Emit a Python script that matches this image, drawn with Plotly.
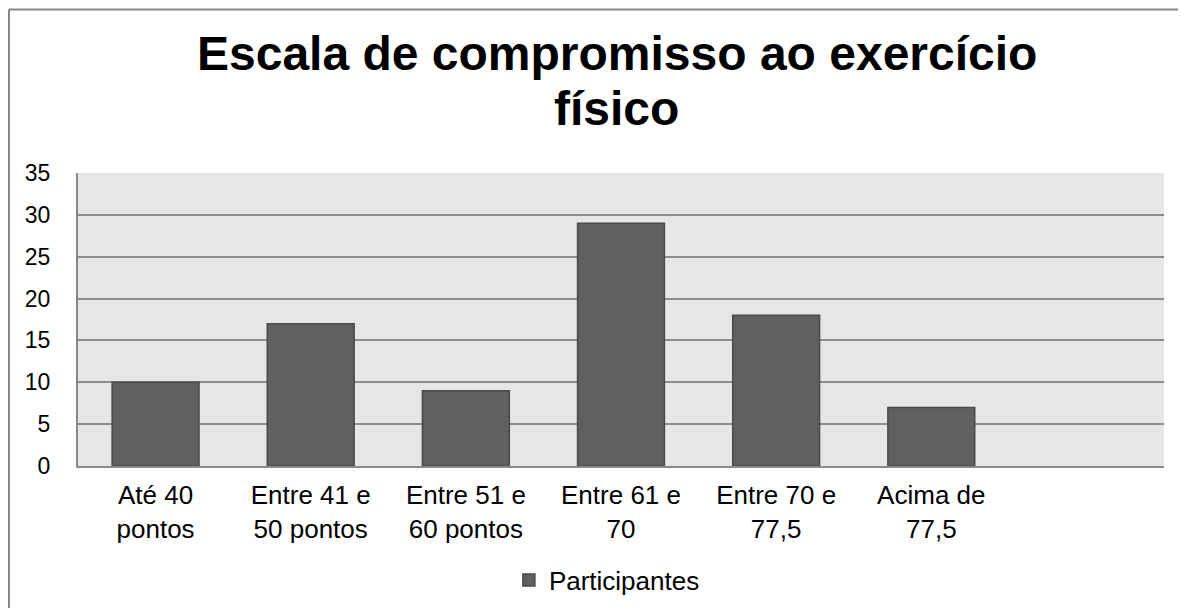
import plotly.graph_objects as go

categories = ["Até 40<br>pontos", "Entre 41 e<br>50 pontos", "Entre 51 e<br>60 pontos",
              "Entre 61 e<br>70", "Entre 70 e<br>77,5", "Acima de<br>77,5"]
participantes = [10, 17, 9, 29, 18, 7]
y_ticks = [0, 5, 10, 15, 20, 25, 30, 35]
title_lines = ["Escala de compromisso ao exercício", "físico"]

W, H = 1170, 600
ml, mr, mt, mb = 70, 14, 165, 142
pw, ph = W - ml - mr, H - mt - mb

def px_x(x):
    return (x - ml) / pw

def px_y(y):
    return (H - mb - y) / ph

fig = go.Figure()
fig.add_trace(go.Bar(
    x=categories, y=participantes, name="Participantes",
    marker=dict(color="#606060", line=dict(color="#4a4a4a", width=1.5)),
))

font = "Liberation Sans, Arial, sans-serif"
title_font = dict(family=font, size=48, color="black")
fig.update_layout(
    width=W, height=H,
    margin=dict(l=ml, r=mr, t=mt, b=mb, pad=0, autoexpand=False),
    paper_bgcolor="white", plot_bgcolor="#e6e6e6",
    bargap=0.44,
    showlegend=True,
    legend=dict(orientation="h", x=0.487, xanchor="center",
                yref="container", y=(H - 572) / H, yanchor="middle",
                font=dict(family=font, size=26, color="black"), itemwidth=30),
    xaxis=dict(type="category", range=[-0.5, 6.5], categoryorder="array", categoryarray=categories,
               showgrid=False, showline=True, linecolor="#8a8a8a", linewidth=2,
               ticks="", tickfont=dict(family=font, size=26, color="black"),
               ticklabelstandoff=5, automargin=False, fixedrange=True),
    yaxis=dict(range=[0, 35], tickvals=y_ticks, showgrid=True, gridcolor="#8c8c8c", gridwidth=2,
               zeroline=False, showline=True, linecolor="#8a8a8a", linewidth=2,
               ticks="", tickfont=dict(family=font, size=23, color="black"),
               ticklabelstandoff=21, automargin=False, fixedrange=True),
    annotations=[
        dict(text="<b>" + title_lines[0] + "</b>", xref="paper", yref="paper",
             x=0.496, y=px_y(46), xanchor="center", yanchor="middle", showarrow=False, font=title_font),
        dict(text="<b>" + title_lines[1] + "</b>", xref="paper", yref="paper",
             x=0.496, y=px_y(100), xanchor="center", yanchor="middle", showarrow=False, font=title_font),
    ],
    shapes=[
        dict(type="line", xref="paper", yref="paper", x0=px_x(1), x1=px_x(W + 20), y0=px_y(1.5), y1=px_y(1.5),
             line=dict(color="#868686", width=2)),
        dict(type="line", xref="paper", yref="paper", x0=px_x(1), x1=px_x(1), y0=px_y(1.5), y1=px_y(H + 20),
             line=dict(color="#868686", width=2)),
    ],
)

fig.write_html("out.html")
